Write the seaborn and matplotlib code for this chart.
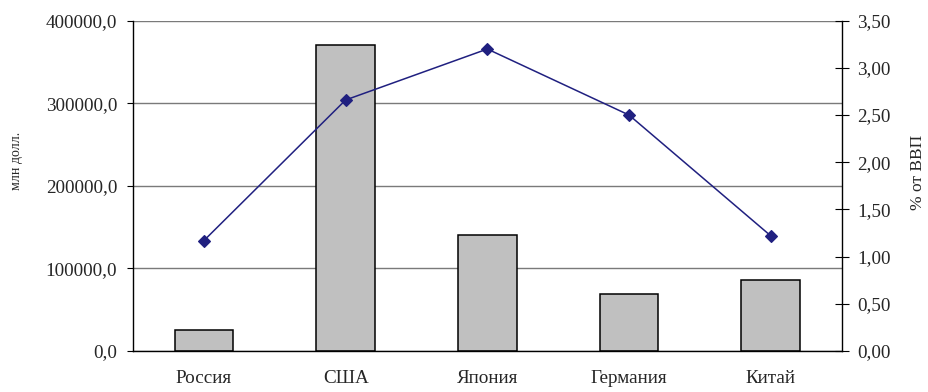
import matplotlib
matplotlib.use("Agg")
import matplotlib.pyplot as plt
from matplotlib.ticker import FuncFormatter, FixedLocator, MultipleLocator
import seaborn as sns
import pandas as pd

# Data
countries = ["Россия", "США", "Япония", "Германия", "Китай"]
spend_mln_usd = [25000.0, 370000.0, 140000.0, 69000.0, 86000.0]
share_gdp_pct = [1.17, 2.66, 3.20, 2.50, 1.22]

df = pd.DataFrame({"country": countries,
                   "spend": spend_mln_usd,
                   "share": share_gdp_pct})

sns.set_theme(style="white")
plt.rcParams["font.family"] = ["Liberation Serif", "DejaVu Serif"]
plt.rcParams["axes.unicode_minus"] = False

fig = plt.figure(figsize=(9.29, 3.92), dpi=100)
ax = fig.add_axes([0.1432, 0.1046, 0.9060 - 0.1432, 0.9472 - 0.1046])

# Bars: spending, left axis
sns.barplot(data=df, x="country", y="spend", ax=ax, color="#C0C0C0",
            edgecolor="black", linewidth=1.1, width=0.414, saturation=1)
ax.set_ylim(0, 400000)
ax.set_xlim(-0.5, len(countries) - 0.5)
ax.yaxis.set_major_locator(MultipleLocator(100000))
ax.yaxis.set_major_formatter(
    FuncFormatter(lambda v, p: f"{v:.1f}".replace(".", ",")))
ax.grid(axis="y", color="#7A7A7A", linewidth=1.0)
ax.set_axisbelow(True)

for side in ["top", "right"]:
    ax.spines[side].set_visible(False)
for side in ["left", "bottom"]:
    ax.spines[side].set_color("black")
    ax.spines[side].set_linewidth(1.0)

ax.set_xlabel("")
ax.set_ylabel("млн долл.", fontsize=10)
ax.yaxis.set_label_coords(-0.155, 0.575)
ax.tick_params(axis="y", which="major", direction="out", length=4.5,
               width=0.8, color="black", labelsize=13.8, pad=7)

# Category labels at centres, tick marks at category boundaries
ax.tick_params(axis="x", which="major", length=0, labelsize=13.8, pad=14)
ax.xaxis.set_minor_locator(
    FixedLocator([i - 0.5 for i in range(len(countries) + 1)]))
ax.tick_params(axis="x", which="minor", direction="inout", length=10,
               width=0.8, color="black")

# Line: share of GDP, right axis
ax2 = ax.twinx()
sns.pointplot(data=df, x="country", y="share", ax=ax2, color="#202080",
              markers="D", markersize=6.5, linewidth=1.1, errorbar=None)
ax2.set_ylim(0, 3.5)
ax2.set_xlim(-0.5, len(countries) - 0.5)
ax2.yaxis.set_major_locator(MultipleLocator(0.5))
ax2.yaxis.set_major_formatter(
    FuncFormatter(lambda v, p: f"{v:.2f}".replace(".", ",")))
ax2.tick_params(axis="y", direction="inout", length=10.5, width=0.8,
                color="black", labelsize=13.8, pad=6)
ax2.set_ylabel("% от ВВП", fontsize=12.5)
ax2.yaxis.set_label_coords(1.097, 0.542)
ax2.grid(False)
for side in ["top", "left", "bottom"]:
    ax2.spines[side].set_visible(False)
ax2.spines["right"].set_color("black")
ax2.spines["right"].set_linewidth(1.0)
ax2.set_xlabel("")

fig.savefig("out.png", dpi=100)
